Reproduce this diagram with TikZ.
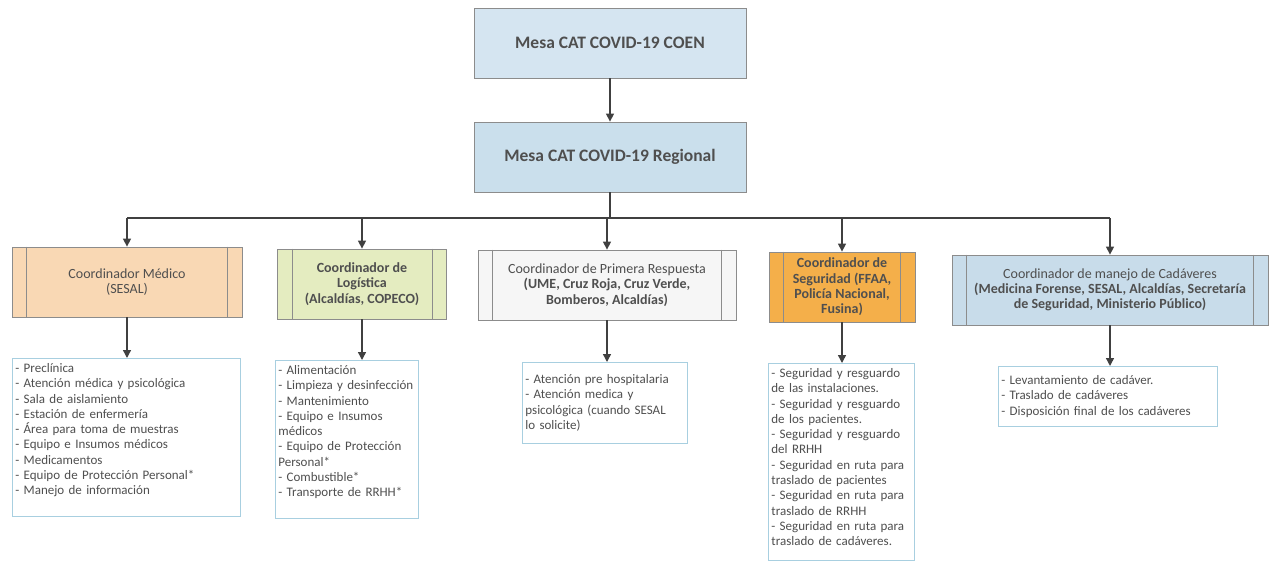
\documentclass[tikz,border=0pt]{standalone}
\usepackage{fontspec}
\setmainfont{Carlito}
\usetikzlibrary{arrows.meta}
\definecolor{mesablue}{HTML}{D5E5F1}
\definecolor{regblue}{HTML}{CADFEC}
\definecolor{medpeach}{HTML}{F9D8B4}
\definecolor{loggreen}{HTML}{E4ECC0}
\definecolor{respwhite}{HTML}{F6F6F6}
\definecolor{segorange}{HTML}{F4AF4A}
\definecolor{cadblue}{HTML}{C8DCEA}
\definecolor{boxgray}{HTML}{8C8C8C}
\definecolor{taskcyan}{HTML}{A8CFE0}
\definecolor{labelgray}{HTML}{4F4F4F}
\definecolor{linkgray}{HTML}{404040}

\begin{document}
\begin{tikzpicture}[x=1pt, y=-1pt,
    mesa/.style={rectangle, draw=boxgray, thick, minimum width=272pt, minimum height=70pt,
        font=\fontsize{17.5}{20}\selectfont\bfseries, text=labelgray},
    coord/.style={rectangle, draw=boxgray, thick, minimum height=70pt, align=center,
        font=\fontsize{14}{15.3}\selectfont\bfseries, text=labelgray},
    tasks/.style={rectangle, draw=taskcyan, thick, fill=white, anchor=north west, align=left,
        inner xsep=3pt, inner ysep=5pt, font=\fontsize{13}{15.3}\selectfont, text=labelgray},
    link/.style={-{Triangle[width=8pt,length=8pt]}, line width=1.4pt, draw=linkgray},
    bar/.style={line width=1.4pt, draw=linkgray}
]
\useasboundingbox (0,0) rectangle (1274,571);

% Mesas
\node[mesa, fill=mesablue] (coen) at (610,43) {Mesa CAT COVID-19 COEN};
\node[mesa, fill=regblue] (regional) at (610,157) {Mesa CAT COVID-19 Regional};
\draw[link] (coen.south) -- (regional.north);

% Coordinadores
\node[coord, fill=medpeach, minimum width=230pt, font=\fontsize{14}{15.3}\selectfont] (med) at (127,282)
    {Coordinador Médico\\(SESAL)};
\node[coord, fill=loggreen, minimum width=169pt] (log) at (362,284)
    {Coordinador de\\Logística\\(Alcaldías, COPECO)};
\node[coord, fill=respwhite, minimum width=258pt] (resp) at (607,285)
    {\mdseries Coordinador de Primera Respuesta\\(UME, Cruz Roja, Cruz Verde,\\Bomberos, Alcaldías)};
\node[coord, fill=segorange, minimum width=146pt] (seg) at (842,287)
    {Coordinador de\\Seguridad (FFAA,\\Policía Nacional,\\Fusina)};
\node[coord, fill=cadblue, minimum width=316pt] (cad) at (1110,290)
    {\mdseries Coordinador de manejo de Cadáveres\\(Medicina Forense, SESAL, Alcaldías, Secretaría\\de Seguridad, Ministerio Público)};

% lineas interiores de proceso
\foreach \c in {med,log,resp,seg,cad} {
    \draw[boxgray, thick] ([xshift=15pt]\c.north west) -- ([xshift=15pt]\c.south west);
    \draw[boxgray, thick] ([xshift=-15pt]\c.north east) -- ([xshift=-15pt]\c.south east);
}

% Reparto
\coordinate (bus) at (610,218);
\draw[bar] (regional.south) -- (bus);
\draw[bar] (med.north |- bus) -- (cad.north |- bus);
\foreach \c in {med,log,resp,seg,cad}
    \draw[link] (\c.north |- bus) -- (\c.north);

% Tareas
\node[tasks, text width=222pt] (tmed) at (12,358)
    {- Preclínica\\- Atención médica y psicológica\\- Sala de aislamiento\\- Estación de enfermería\\- Área para toma de muestras\\- Equipo e Insumos médicos\\- Medicamentos\\- Equipo de Protección Personal*\\- Manejo de información\par\vspace*{14pt}};
\node[tasks, text width=137pt] (tlog) at (275,360)
    {- Alimentación\\- Limpieza y desinfección\\- Mantenimiento\\- Equipo e Insumos\\médicos\\- Equipo de Protección\\Personal*\\- Combustible*\\- Transporte de RRHH*\par\vspace*{14pt}};
\node[tasks, text width=159pt, inner ysep=12pt] (tresp) at (522,362)
    {- Atención pre hospitalaria\\- Atención medica y\\psicológica (cuando SESAL\\lo solicite)};
\node[tasks, text width=140pt] (tseg) at (768,363)
    {- Seguridad y resguardo\\de las instalaciones.\\- Seguridad y resguardo\\de los pacientes.\\- Seguridad y resguardo\\del RRHH\\- Seguridad en ruta para\\traslado de pacientes\\- Seguridad en ruta para\\traslado de RRHH\\- Seguridad en ruta para\\traslado de cadáveres.\par\vspace*{10pt}};
\node[tasks, text width=213pt, inner ysep=9pt] (tcad) at (998,366)
    {- Levantamiento de cadáver.\\- Traslado de cadáveres\\- Disposición final de los cadáveres};

\draw[link] (med.south) -- (med.south |- tmed.north);
\draw[link] (log.south) -- (log.south |- tlog.north);
\draw[link] (resp.south) -- (resp.south |- tresp.north);
\draw[link] (seg.south) -- (seg.south |- tseg.north);
\draw[link] (cad.south) -- (cad.south |- tcad.north);
\end{tikzpicture}
\end{document}
